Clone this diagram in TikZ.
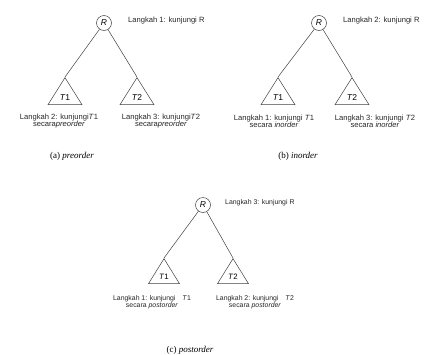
\documentclass[tikz,border=0pt]{standalone}
\usepackage{fontspec}
\setmainfont{Liberation Serif}
\setsansfont{Liberation Sans}
\usetikzlibrary{shapes.geometric}
\colorlet{ink}{black!75}
\tikzset{
  vert/.style    ={circle, draw=ink, line width=0.5pt, minimum size=15pt,
                   inner sep=0pt, font=\sffamily\itshape\fontsize{8.5}{9}\selectfont},
  subtree/.style ={isosceles triangle, shape border rotate=90,
                   isosceles triangle stretches, draw=ink, line width=0.5pt,
                   minimum width=34pt, minimum height=27pt, inner sep=0pt,
                   anchor=apex, font=\sffamily\fontsize{8.5}{9}\selectfont},
  subtree-c/.style={subtree, minimum width=31pt, minimum height=25pt,
                   font=\sffamily\fontsize{7.8}{8}\selectfont},
  stepnote/.style={font=\sffamily\fontsize{7.6}{7.4}\selectfont, align=center,
                   text=black!85, inner sep=0pt},
  stepnote-c/.style={stepnote, font=\sffamily\fontsize{6.9}{7.2}\selectfont},
  visit/.style   ={font=\sffamily\fontsize{7.6}{8}\selectfont, anchor=west,
                   text=black!85, inner sep=0pt},
  visit-c/.style ={visit, font=\sffamily\fontsize{6.9}{7.2}\selectfont},
  panelcap/.style={font=\fontsize{9}{10}\selectfont, inner sep=0pt},
  branch/.style  ={-, ink, line width=0.5pt},
}

\begin{document}
\begin{tikzpicture}[x=1pt, y=-1pt]
\useasboundingbox (0,0) rectangle (431,354);

% --- (a) preorder ---
\node[vert] (ra) at (104,23) {R};
\node[visit] (va) at (128,21) {Langkah 1: kunjungi R};
\node[subtree] (ta1) at (65,77) {\textit{T}1};
\node[subtree] (ta2) at (137,77) {\textit{T}2};
\draw[branch] (ra) -- (ta1.apex);
\draw[branch] (ra) -- (ta2.apex);
\node[stepnote] (sa1) at (59,121) {Langkah 2: kunjungi\textit{T}1\\secara\textit{preorder}};
\node[stepnote] (sa2) at (161,121) {Langkah 3: kunjungi\textit{T}2\\secara\textit{preorder}};
\node[panelcap] (ca) at (72,156) {(a) \textit{preorder}};

% --- (b) inorder ---
\node[vert] (rb) at (319,23) {R};
\node[visit] (vb) at (343,21) {Langkah 2: kunjungi R};
\node[subtree] (tb1) at (278,77) {\textit{T}1};
\node[subtree] (tb2) at (352,77) {\textit{T}2};
\draw[branch] (rb) -- (tb1.apex);
\draw[branch] (rb) -- (tb2.apex);
\node[stepnote] (sb1) at (274,121) {Langkah 1: kunjungi \textit{T}1\\secara \textit{inorder}};
\node[stepnote] (sb2) at (375,121) {Langkah 3: kunjungi \textit{T}2\\secara \textit{inorder}};
\node[panelcap] (cb) at (298,156) {(b) \textit{inorder}};

% --- (c) postorder ---
\node[vert] (rc) at (203,205) {R};
\node[visit-c] (vc) at (225,203) {Langkah 3: kunjungi R};
\node[subtree-c] (tc1) at (164,258) {\textit{T}1};
\node[subtree-c] (tc2) at (233,258) {\textit{T}2};
\draw[branch] (rc) -- (tc1.apex);
\draw[branch] (rc) -- (tc2.apex);
\node[stepnote-c] (sc1) at (152,302) {Langkah 1: kunjungi\quad\textit{T}1\\secara \textit{postorder}};
\node[stepnote-c] (sc2) at (255,302) {Langkah 2: kunjungi\quad\textit{T}2\\secara \textit{postorder}};
\node[panelcap] (cc) at (190,350) {(c) \textit{postorder}};

\end{tikzpicture}
\end{document}
